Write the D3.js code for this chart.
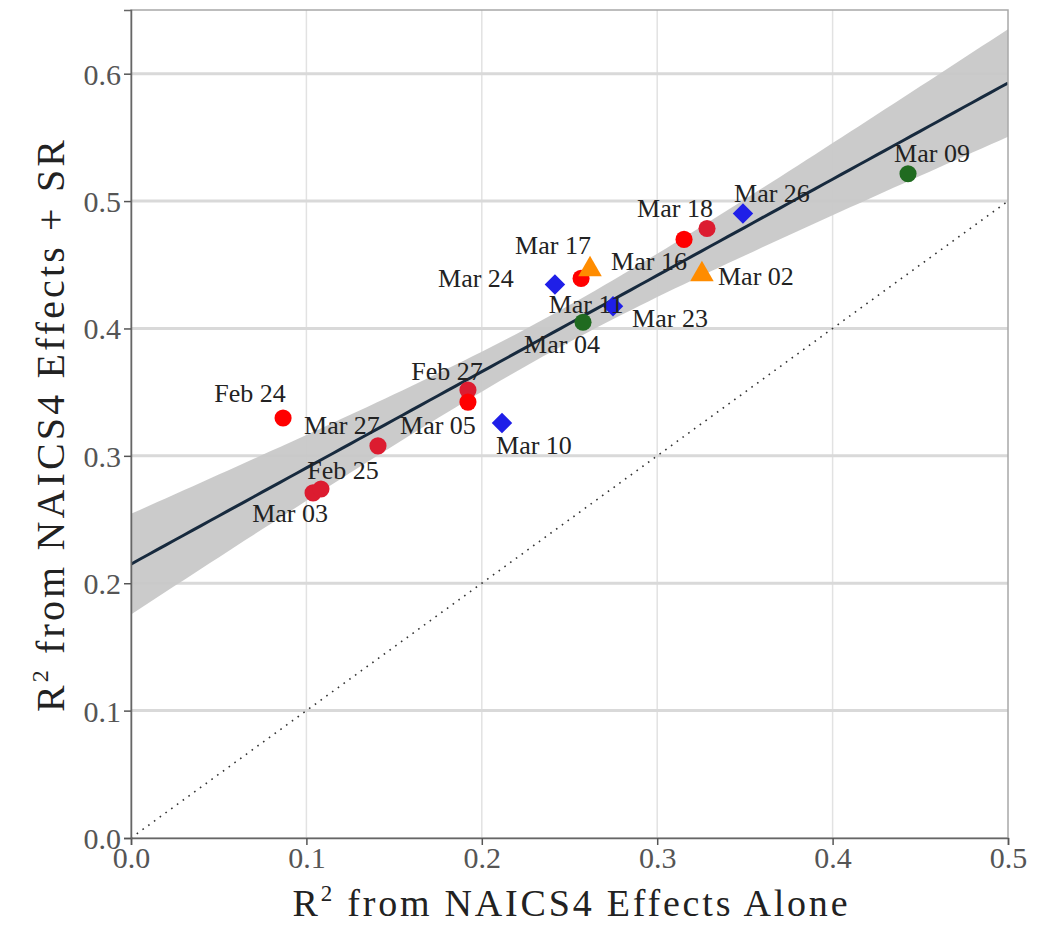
<!DOCTYPE html>
<html>
<head>
<meta charset="utf-8">
<script src="https://cdn.jsdelivr.net/npm/d3@7/dist/d3.min.js"></script>
<style>
  html, body { margin: 0; padding: 0; background: #fff; }
  svg text { font-family: "Liberation Serif", "DejaVu Serif", serif; }
</style>
</head>
<body>
<svg id="chart" width="1053" height="929"></svg>
<script>
// ---- Data ----
const labels = ["Feb 24","Mar 03","Feb 25","Mar 27","Feb 27","Mar 05","Mar 10","Mar 24","Mar 11","Mar 17","Mar 23","Mar 04","Mar 16","Mar 18","Mar 02","Mar 26","Mar 09"];
const xValues = [0.0867,0.1038,0.1083,0.1408,0.1921,0.1921,0.2115,0.2417,0.2566,0.2617,0.2748,0.2577,0.3153,0.3284,0.3255,0.3489,0.4430];
const yValues = [0.3297,0.2709,0.2740,0.3078,0.3516,0.3422,0.3258,0.4346,0.4393,0.4448,0.4174,0.4049,0.4699,0.4785,0.4409,0.4902,0.5215];
const groups  = ["red","crimson","crimson","crimson","crimson","red","blue","blue","red","orange","blue","green","red","crimson","orange","blue","green"];
const xTicks = [0.0,0.1,0.2,0.3,0.4,0.5];
const yTicks = [0.0,0.1,0.2,0.3,0.4,0.5,0.6];
const xDomain = [0, 0.5];
const yDomain = [0, 0.65];
const xLabel = "from NAICS4 Effects Alone";
const yLabel = "from NAICS4 Effects + SR";
// label offsets (px) relative to each point
const labelDx = [-33,-23,22,-36,-21,-30,32,-79,5,-37,57,-21,-35,-32,54,29,24];
const labelDy = [-25,21,-18,-20,-19,23,23,-6,26,-26,12,22,22,-20,0,-20,-20];

const groupStyle = {
  red:     {color:"#ff0000", shape:"circle"},
  crimson: {color:"#dc1c30", shape:"circle"},
  blue:    {color:"#1f1fe8", shape:"diamond"},
  orange:  {color:"#ff8c00", shape:"triangle"},
  green:   {color:"#206b20", shape:"circle"}
};

// ---- Layout ----
const svg = d3.select("#chart");
const m = {left:131, right:1053-1008, top:10, bottom:929-838};
const W = 1053 - m.left - m.right, H = 929 - m.top - m.bottom;
const x = d3.scaleLinear().domain(xDomain).range([m.left, m.left + W]);
const y = d3.scaleLinear().domain(yDomain).range([m.top + H, m.top]);

const points = labels.map((l,i)=>({label:l, x:xValues[i], y:yValues[i], g:groups[i], dx:labelDx[i], dy:labelDy[i]}));

// clip
svg.append("defs").append("clipPath").attr("id","clip")
  .append("rect").attr("x",m.left).attr("y",m.top).attr("width",W).attr("height",H);

// grid
const grid = svg.append("g");
grid.selectAll("line.vx").data(xTicks.filter(t=>t>0 && t<0.5)).join("line")
  .attr("x1",d=>x(d)).attr("x2",d=>x(d)).attr("y1",m.top).attr("y2",m.top+H)
  .attr("stroke","#e2e2e2").attr("stroke-width",1.5);
grid.selectAll("line.hy").data(yTicks.filter(t=>t>0)).join("line")
  .attr("y1",d=>y(d)).attr("y2",d=>y(d)).attr("x1",m.left).attr("x2",m.left+W)
  .attr("stroke","#d9d9d9").attr("stroke-width",3);

// ---- regression (OLS) with 95% CI ----
const n = points.length;
const mx = d3.mean(xValues), my = d3.mean(yValues);
const sxx = d3.sum(xValues, v=>(v-mx)*(v-mx));
const sxy = d3.sum(xValues.map((v,i)=>(v-mx)*(yValues[i]-my)));
const slope = sxy/sxx, icpt = my - slope*mx;
const sse = d3.sum(xValues.map((v,i)=>Math.pow(yValues[i]-(icpt+slope*v),2)));
const s = Math.sqrt(sse/(n-2));
const tcrit = 2.131; // t(0.975, 15)
const xs = d3.range(0, 101).map(i => xDomain[0] + (xDomain[1]-xDomain[0])*i/100);
const band = xs.map(v => {
  const yh = icpt + slope*v;
  const h = tcrit * s * Math.sqrt(1/n + (v-mx)*(v-mx)/sxx);
  return {x:v, lo:yh-h, hi:yh+h, yh:yh};
});
const plot = svg.append("g").attr("clip-path","url(#clip)");
plot.append("path").datum(band)
  .attr("d", d3.area().x(d=>x(d.x)).y0(d=>y(d.lo)).y1(d=>y(d.hi)))
  .attr("fill","#c8c8c8").attr("fill-opacity",0.95);
plot.append("path").datum(band)
  .attr("d", d3.line().x(d=>x(d.x)).y(d=>y(d.yh)))
  .attr("fill","none").attr("stroke","#172a3e").attr("stroke-width",3);

// identity dotted line
plot.append("line")
  .attr("x1",x(0)).attr("y1",y(0)).attr("x2",x(0.5)).attr("y2",y(0.5))
  .attr("stroke","#333").attr("stroke-width",1.6).attr("stroke-dasharray","1.6,5.5");

// ---- frame & axes ----
svg.append("rect").attr("x",m.left).attr("y",m.top).attr("width",W).attr("height",H)
  .attr("fill","none").attr("stroke","#a8a8a8").attr("stroke-width",1.5);

const xAxis = svg.append("g").attr("transform",`translate(0,${m.top+H})`)
  .call(d3.axisBottom(x).tickValues(xTicks).tickFormat(d3.format(".1f")).tickSize(7).tickPadding(2));
const yAxis = svg.append("g").attr("transform",`translate(${m.left},0)`)
  .call(d3.axisLeft(y).tickValues(yTicks).tickFormat(d3.format(".1f")).tickSize(7).tickPadding(3));
[xAxis,yAxis].forEach(a=>{
  a.select(".domain").attr("stroke","#666").attr("stroke-width",1.5);
  a.selectAll(".tick line").attr("stroke","#555").attr("stroke-width",1.5);
  a.selectAll(".tick text").attr("fill","#555").style("font-size","30px")
    .style("font-family",'"Liberation Serif", serif');
});
yAxis.selectAll(".tick text").attr("dy","0.35em");

// ---- points ----
const sym = {
  circle: d3.symbol().type(d3.symbolCircle).size(230),
  diamond: d3.symbol().type(d3.symbolSquare).size(210),
  triangle: d3.symbol().type(d3.symbolTriangle).size(240)
};
const pg = svg.append("g");
pg.selectAll("path.pt").data(points).join("path")
  .attr("class","pt")
  .attr("transform", d => {
    const st = groupStyle[d.g];
    const rot = st.shape==="diamond" ? " rotate(45)" : "";
    const dyOff = st.shape==="triangle" ? -2 : 0;
    return `translate(${x(d.x)},${y(d.y)+dyOff})${rot}`;
  })
  .attr("d", d => sym[groupStyle[d.g].shape]())
  .attr("fill", d => groupStyle[d.g].color);

// labels
svg.append("g").selectAll("text").data(points).join("text")
  .attr("x", d => x(d.x) + d.dx)
  .attr("y", d => y(d.y) + d.dy)
  .attr("text-anchor","middle").attr("dominant-baseline","central")
  .attr("fill","#222").style("font-size","26px")
  .text(d => d.label);

// ---- axis titles ----
const xt = svg.append("text").attr("x", 570).attr("y", 916)
  .attr("text-anchor","middle").attr("fill","#222").style("font-size","38px")
  .attr("textLength", 555).attr("lengthAdjust","spacing");
xt.append("tspan").text("R");
xt.append("tspan").attr("dy","-15").style("font-size","23px").text("2");
xt.append("tspan").attr("dy","15").text(" " + xLabel);

const yt = svg.append("text").attr("transform","translate(64,426) rotate(-90)")
  .attr("text-anchor","middle").attr("fill","#222").style("font-size","40px")
  .attr("textLength", 572).attr("lengthAdjust","spacing");
yt.append("tspan").text("R");
yt.append("tspan").attr("dy","-16").style("font-size","24px").text("2");
yt.append("tspan").attr("dy","16").text(" " + yLabel);
</script>
</body>
</html>
